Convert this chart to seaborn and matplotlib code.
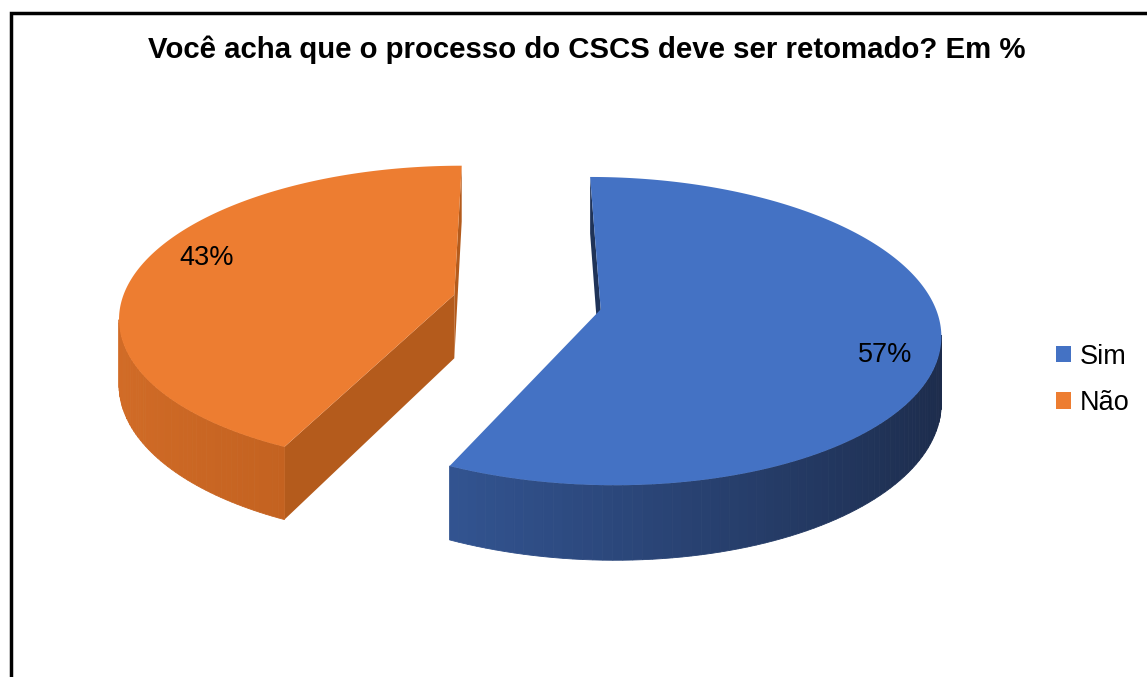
import numpy as np
import matplotlib
matplotlib.use("Agg")
import matplotlib.pyplot as plt
from matplotlib.patches import Patch
from matplotlib.colors import to_rgb
import seaborn as sns

# ---- data ----
categories = ["Sim", "Não"]
values = [57, 43]
labels = ["57%", "43%"]
title = "Você acha que o processo do CSCS deve ser retomado? Em %"

sns.set_style("white")
plt.rcParams["font.family"] = ["Liberation Sans", "DejaVu Sans"]
plt.rcParams["text.color"] = "black"

top_colors = ["#4472C4", "#ED7D31"]
wall_light = ["#3B64AD", "#D26C27"]
wall_dark = ["#1C2B4A", "#A04A10"]
cut_colors = ["#1F3358", "#B45B1C"]

# ---- 3D pie projection settings (layout, not data) ----
CX, CY = 527, 302        # screen position of the pie centre
A, B = 333, 149          # horizontal / vertical radius at centre depth
K = 0.14                 # perspective strength
PX = 515                 # horizontal vanishing position
TPX = 64                 # thickness of the pie at centre depth
EXPLODE = 0.225
START = 90

W, H = 1147, 677
fig = plt.figure(figsize=(W / 100, H / 100), dpi=100)
ax = fig.add_axes([0, 0, 1, 1])
ax.set_xlim(0, W)
ax.set_ylim(H, 0)
ax.axis("off")


def proj(X, Y, bot=False):
    s = 1.0 / (1.0 + K * Y)
    uc = B / K
    x = PX + (CX - PX + A * X) * s
    y = CY - uc + (uc + (TPX if bot else 0.0)) * s
    return x, y


def mix(c1, c2, s):
    c1, c2 = np.array(to_rgb(c1)), np.array(to_rgb(c2))
    return tuple(c1 * (1 - s) + c2 * s)


fracs = np.array(values, float) / np.sum(values)
D = 1.0 / K
XOFF = (CX - PX) / A
geo = []
t = START
for i, f in enumerate(fracs):
    t0, t1 = t, t - 360 * f
    t = t1
    m = np.deg2rad((t0 + t1) / 2)
    geo.append((i, t0, t1, EXPLODE * np.cos(m), EXPLODE * np.sin(m)))

for i, t0, t1, ox, oy in sorted(geo, key=lambda g: -g[4]):
    # outer wall (only the parts facing the viewer)
    n = 140
    ed = np.linspace(t1, t0, n + 1)
    for j in range(n):
        tt = np.deg2rad(np.linspace(ed[j], ed[j + 1], 4))
        tm = 0.5 * (tt[0] + tt[-1])
        Xw = XOFF + ox + np.cos(tm)
        Yw = D + oy + np.sin(tm)
        if np.cos(tm) * Xw + np.sin(tm) * Yw >= 0:
            continue
        xs, ys = proj(ox + np.cos(tt), oy + np.sin(tt))
        _, yb = proj(ox + np.cos(tt), oy + np.sin(tt), True)
        sh = np.clip((np.cos(tm) + 1) / 2, 0, 1)
        col = mix(wall_light[i], wall_dark[i], sh)
        ax.fill(np.r_[xs, xs[::-1]], np.r_[ys, yb[::-1]], color=col,
                lw=0.6, ec=col, zorder=3)
    # radial cut faces
    for te, nsgn in ((t0, 90), (t1, -90)):
        nr = np.deg2rad(te + nsgn)
        if np.cos(nr) * (XOFF + ox) + np.sin(nr) * (D + oy) < 0:
            r = np.deg2rad(te)
            xc0, yc0 = proj(ox, oy)
            _, ycb = proj(ox, oy, True)
            xe0, ye0 = proj(ox + np.cos(r), oy + np.sin(r))
            _, yeb = proj(ox + np.cos(r), oy + np.sin(r), True)
            ax.fill([xc0, xe0, xe0, xc0], [yc0, ye0, yeb, ycb],
                    color=cut_colors[i], lw=0, zorder=2.5)
    # top face
    tt = np.deg2rad(np.linspace(t0, t1, 300))
    xs, ys = proj(ox + np.cos(tt), oy + np.sin(tt))
    xc0, yc0 = proj(ox, oy)
    ax.fill(np.r_[xc0, xs, xc0], np.r_[yc0, ys, yc0], color=top_colors[i],
            lw=0, zorder=4)

# data labels
ax.text(885, 355, labels[0], fontsize=19.5, ha="center", va="center", zorder=6)
ax.text(207, 258, labels[1], fontsize=19.5, ha="center", va="center", zorder=6)

# title
ax.text(587, 50, title, fontsize=21.2, fontweight="bold", ha="center",
        va="center", color="black", zorder=6)

# frame (left and top edges only)
ax.plot([11, 11, W], [H, 13, 13], color="black", lw=2.5, zorder=7,
        solid_joinstyle="miter", clip_on=False)

# legend
handles = [Patch(facecolor=c, edgecolor="none") for c in top_colors]
ax.legend(handles, categories, loc="center left",
          bbox_to_anchor=(1045 / W, 1 - 380 / H), frameon=False,
          fontsize=19.5, handlelength=0.55, handleheight=0.55,
          handletextpad=0.35, labelspacing=0.75, borderaxespad=0,
          labelcolor="black")

fig.savefig("out.png", dpi=100)
